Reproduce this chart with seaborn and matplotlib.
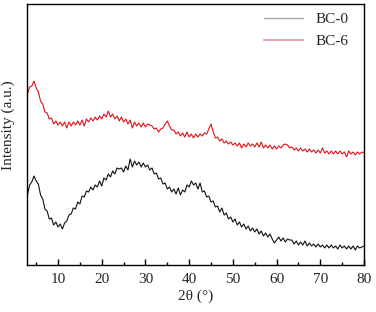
import numpy as np
import pandas as pd
import matplotlib
matplotlib.use("Agg")
import matplotlib.pyplot as plt
import seaborn as sns
from matplotlib.lines import Line2D

bc0 = [70, 80, 83, 89, 84, 81, 70, 66, 56, 54, 46, 47, 40, 43, 38, 41, 36, 42, 44, 50,
       51, 57, 56, 63, 61, 69, 68, 74, 73, 78, 75, 80, 78, 84, 79, 87, 85, 91, 88, 94,
       91, 97, 96, 97, 93, 99, 95, 106, 98, 104, 100, 103, 98, 102, 98, 100, 95, 97, 91, 92,
       86, 87, 81, 82, 76, 78, 73, 76, 71, 77, 70, 75, 73, 80, 78, 84, 80, 82, 76, 82,
       73, 74, 68, 69, 63, 64, 58, 59, 53, 57, 50, 52, 46, 48, 43, 46, 40, 43, 38, 41,
       36, 39, 34, 37, 33, 36, 31, 34, 29, 32, 28, 31, 26, 22, 25, 28, 24, 27, 23, 26,
       25, 25, 21, 24, 20, 23, 20, 24, 19, 22, 19, 21, 18, 21, 18, 20, 17, 20, 17, 20,
       17, 19, 16, 20, 17, 19, 16, 19, 16, 19, 15, 19, 17, 18, 19]

bc6 = [171, 178, 179, 184, 177, 173, 164, 161, 153, 152, 146, 147, 141, 144, 140, 143, 139, 143, 137, 143,
       139, 143, 140, 144, 140, 145, 139, 146, 143, 147, 144, 148, 145, 149, 146, 151, 148, 154, 148, 151,
       146, 149, 144, 148, 143, 146, 141, 145, 137, 143, 139, 142, 138, 142, 138, 141, 140, 139, 136, 137,
       133, 136, 137, 141, 144, 139, 135, 135, 131, 133, 129, 132, 128, 133, 128, 131, 127, 131, 128, 131,
       129, 132, 131, 136, 141, 133, 127, 128, 124, 126, 122, 124, 121, 123, 120, 122, 119, 122, 117, 121,
       118, 122, 119, 121, 118, 122, 118, 123, 117, 120, 117, 120, 116, 119, 116, 119, 117, 120, 121, 120,
       117, 118, 115, 117, 114, 117, 114, 116, 113, 116, 113, 115, 112, 115, 112, 117, 112, 114, 111, 114,
       111, 114, 111, 114, 111, 113, 108, 114, 111, 113, 110, 113, 111, 113, 112]

two_theta_start, two_theta_end = 3.0, 80.0
labels = ["BC-0", "BC-6"]
x_ticks = [10, 20, 30, 40, 50, 60, 70, 80]

x0 = np.linspace(two_theta_start, two_theta_end, len(bc0))
x6 = np.linspace(two_theta_start, two_theta_end, len(bc6))
df = pd.concat([
    pd.DataFrame({"2theta": x0, "I": bc0, "sample": labels[0]}),
    pd.DataFrame({"2theta": x6, "I": bc6, "sample": labels[1]}),
])

sns.set_theme(style="ticks")
plt.rcParams['font.family'] = ['Liberation Serif', 'DejaVu Serif']

fig = plt.figure(figsize=(3.76, 3.12), dpi=100)
ax = fig.add_axes([27/376, 1 - 265/312, (364 - 27)/376, (265 - 4)/312])
sns.lineplot(data=df, x="2theta", y="I", hue="sample",
             palette={"BC-0": "#111111", "BC-6": "#d8141c"},
             linewidth=0.8, ax=ax, legend=False, estimator=None, sort=False)

ax.set_xlim(2.9, 80)
ax.set_ylim(0, 261)
ax.set_xticks(x_ticks)
ax.set_xticks(np.arange(5, 80, 10), minor=True)
ax.set_yticks([])
ax.tick_params(axis="x", which="major", direction="in", length=4, width=1,
               labelsize=11, pad=6, color="black")
ax.tick_params(axis="x", which="minor", direction="in", length=2, width=1, color="black")
for s in ax.spines.values():
    s.set_visible(True)
    s.set_linewidth(1.0)
    s.set_color("black")
ax.set_xlabel("2θ (°)", fontsize=11, labelpad=2)
ax.set_ylabel("Intensity (a.u.)", fontsize=11)
ax.yaxis.set_label_coords(-0.035, 0.535)

handles = [Line2D([], [], color="#a8a8a8", lw=1.0),
           Line2D([], [], color="#e0aaaa", lw=1.5)]
ax.legend(handles, labels, loc="upper right", frameon=False, fontsize=11,
          handlelength=2.6, handletextpad=0.8, labelspacing=0.55,
          bbox_to_anchor=(0.995, 1.02))

fig.savefig("out.png", dpi=100)
